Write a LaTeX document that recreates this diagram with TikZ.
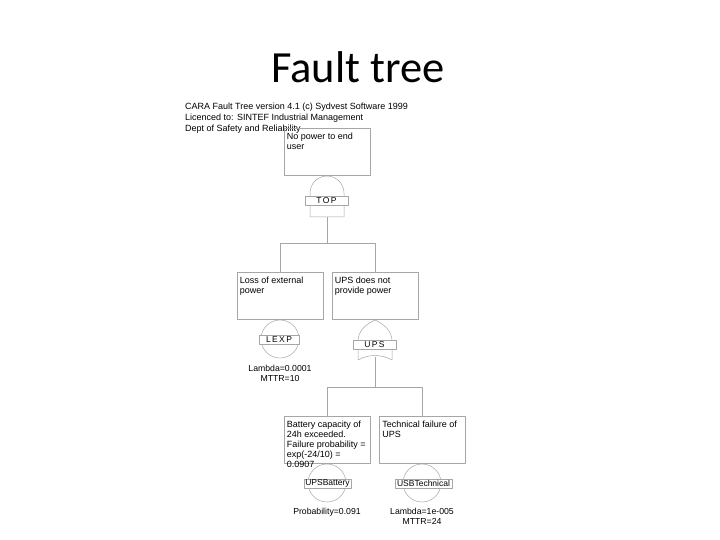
\documentclass[tikz,border=0pt]{standalone}
\usepackage{fontspec}
\setmainfont{Liberation Sans}
\newfontfamily\titlefont{Carlito}
\usepackage{tikz}
\usetikzlibrary{positioning, calc}
\tikzstyle{event} = [draw=gray!70, line width=0.5pt, minimum width=86pt, minimum height=47pt, inner sep=0pt]
\tikzstyle{evtext} = [anchor=north west, align=left, font=\fontsize{9}{9.9}\selectfont, inner sep=0pt]
\tikzstyle{basic} = [draw=gray!70, line width=0.5pt, circle, minimum size=38pt, inner sep=0pt]
\tikzstyle{gatelabel} = [draw=gray!70, fill=white, line width=0.5pt, minimum height=9pt, inner sep=0pt, font=\fontsize{8.5}{9}\selectfont]
\tikzstyle{gateshape} = [draw=gray!70, fill=white, line width=0.5pt]
\tikzstyle{conn} = [gray!70, line width=0.5pt]
\tikzstyle{info} = [align=center, anchor=north, inner sep=0pt, font=\fontsize{8.7}{10}\selectfont]

\begin{document}
\begin{tikzpicture}[x=1pt, y=-1pt, line join=round]
    \useasboundingbox (0,0) rectangle (720,540);

    % Title and header
    \node[font=\titlefont\fontsize{44.5}{48}\selectfont] (title) at (358,67) {Fault tree};
    \node[anchor=north west, align=left, inner sep=0pt,
          font=\fontsize{9}{11}\selectfont] (header) at (185,102.5)
      {CARA Fault Tree version 4.1 (c) Sydvest Software 1999\\
       Licenced to: SINTEF Industrial Management\\
       Dept of Safety and Reliability};

    % Events
    \node[event] (topbox) at (327,151.5) {};
    \node[event] (lexpbox) at (280,295.5) {};
    \node[event] (upsbox) at (375,295.5) {};
    \node[event] (battbox) at (327,440) {};
    \node[event] (techbox) at (422.5,440) {};

    \node[evtext] (toptext) at ([shift={(3pt,-5.5pt)}]topbox.north west)
      {No power to end\\user};
    \node[evtext] (lexptext) at ([shift={(3pt,-5.5pt)}]lexpbox.north west)
      {Loss of external\\power};
    \node[evtext] (upstext) at ([shift={(3pt,-5.5pt)}]upsbox.north west)
      {UPS does not\\provide power};
    \node[evtext] (batttext) at ([shift={(3pt,-5pt)}]battbox.north west)
      {Battery capacity of\\24h exceeded.\\Failure probability =\\exp(-24/10) =\\0.0907};
    \node[evtext] (techtext) at ([shift={(3pt,-5pt)}]techbox.north west)
      {Technical failure of\\UPS};

    % AND gate (TOP)
    \draw[gateshape] (310,217) -- (310,193) arc (180:360:17) -- (344,217) -- cycle;
    \coordinate (topgate) at (327,217);
    \node[gatelabel, minimum width=43pt] (toplabel) at (326.5,200.5) {T\,O\,P};

    % OR gate (UPS)
    \draw[gateshape] (358,360) -- (358,341)
      .. controls (358,331) and (366,324) .. (375,320)
      .. controls (384,324) and (392,331) .. (392,341) -- (392,360)
      .. controls (381,354) and (369,354) .. (358,360) -- cycle;
    \coordinate (upsgate) at (375,357);
    \node[gatelabel, minimum width=43pt] (upslabel) at (374.5,344.5) {U\,P\,S};

    % Basic events
    \node[basic] (lexp) at (280,339) {};
    \node[basic] (batt) at (327,483) {};
    \node[basic] (tech) at (422,483) {};
    \node[gatelabel, minimum width=40pt] (lexplabel) at (279,340) {L\,E\,X\,P};
    \node[gatelabel, minimum width=47pt] (battlabel) at (327.5,483.5) {UPSBattery};
    \node[gatelabel, minimum width=57pt] (techlabel) at (423.5,483.5) {USBTechnical};

    \node[info] (lexpinfo) at ([yshift=-6.5pt]lexp.south) {Lambda=0.0001\\MTTR=10};
    \node[info] (battinfo) at ([yshift=-5.5pt]batt.south) {Probability=0.091};
    \node[info] (techinfo) at ([yshift=-5.5pt]tech.south) {Lambda=1e-005\\MTTR=24};

    % Connectors
    \coordinate (bar1) at (327,243);
    \coordinate (bar2) at (375,387);
    \draw[conn] (topgate) -- (bar1) -| (lexpbox.north);
    \draw[conn] (bar1) -| (upsbox.north);
    \draw[conn] (upsgate) -- (bar2) -| (battbox.north);
    \draw[conn] (bar2) -| (techbox.north);
  \end{tikzpicture}
\end{document}
